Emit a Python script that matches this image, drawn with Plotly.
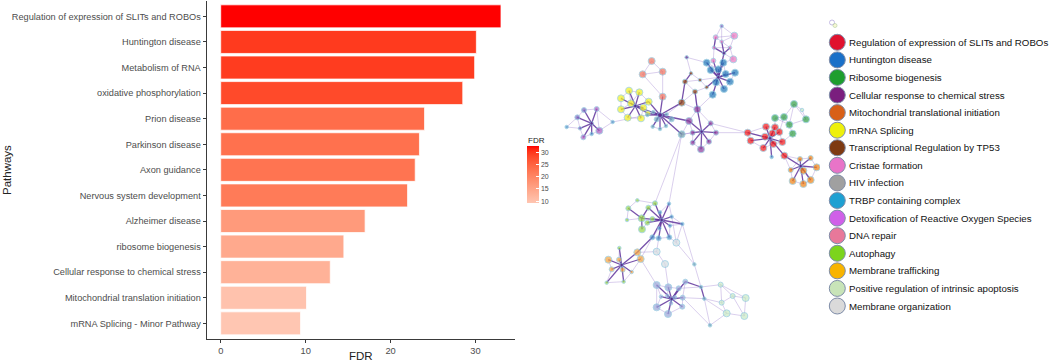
import plotly.graph_objects as go
import numpy as np

# ---------------- bar chart data ----------------
pathways = [
    "Regulation of expression of SLITs and ROBOs",
    "Huntington disease",
    "Metabolism of RNA",
    "oxidative phosphorylation",
    "Prion disease",
    "Parkinson disease",
    "Axon guidance",
    "Nervous system development",
    "Alzheimer disease",
    "ribosome biogenesis",
    "Cellular response to chemical stress",
    "Mitochondrial translation initiation",
    "mRNA Splicing - Minor Pathway",
]
fdr = [33.0, 30.1, 29.9, 28.5, 24.0, 23.4, 22.9, 22.0, 17.0, 14.5, 12.9, 10.1, 9.4]
fdr_ticks = [0, 10, 20, 30]
colorbar_ticks = [10, 15, 20, 25, 30]

# ---------------- legend data ----------------
legend_labels = [
    "Regulation of expression of SLITs and ROBOs",
    "Huntington disease",
    "Ribosome biogenesis",
    "Cellular response to chemical stress",
    "Mitochondrial translational initiation",
    "mRNA Splicing",
    "Transcriptional Regulation by TP53",
    "Cristae formation",
    "HIV infection",
    "TRBP containing complex",
    "Detoxification of Reactive Oxygen Species",
    "DNA repair",
    "Autophagy",
    "Membrane trafficking",
    "Positive regulation of intrinsic apoptosis",
    "Membrane organization",
]
legend_colors = [
    "#E0112E", "#1A70C8", "#1E9E2E", "#7A1E7E", "#D86018", "#EEF00C",
    "#7E3A12", "#E874C8", "#A0A0A0", "#1EA0D2", "#D060E8", "#E8789A",
    "#7CD41C", "#F8B400", "#C8E4B8", "#DADADA",
]

# ---------------- network data (layout coordinates) ----------------
# (id, x, y, category, rank)
cluster_A = [("A0", 95, 370, "hub", 1), ("A1", 110, 327, "orchid", 2), ("A2", 72, 330, "violet", 2),
             ("A3", 52, 352, "violet", 2), ("A4", 60, 385, "violet", 1), ("A5", 118, 392, "orchid", 3),
             ("A6", 70, 412, "orchid", 2), ("A7", 20, 381, "cyan", 1), ("A8", 95, 402, "cyan", 1),
             ("A9", 158, 366, "cyan", 1)]
cluster_B = [("B0", 207, 272, "yellow", 3), ("B1", 238, 277, "yellow", 3), ("B2", 183, 295, "yellow", 3),
             ("B3", 213, 310, "yellow", 3), ("B4", 266, 305, "yellow", 3), ("B5", 183, 328, "yellow", 3),
             ("B6", 250, 323, "yellow", 3), ("B7", 203, 353, "yellow", 3), ("B8", 243, 355, "yellow", 3),
             ("B9", 264, 340, "yellow", 2), ("B10", 226, 318, "hub", 1)]
cluster_C = [("C0", 275, 183, "coral", 3), ("C1", 308, 215, "coral", 3), ("C2", 248, 223, "coral", 3),
             ("C3", 308, 290, "coral", 3)]
cluster_D = [("D0", 300, 345, "hub", 2), ("D1", 278, 380, "teal", 1), ("D2", 300, 387, "teal", 1),
             ("D3", 318, 378, "teal", 1), ("D4", 335, 358, "teal", 2), ("D5", 290, 358, "teal", 2),
             ("D6", 320, 343, "teal", 1), ("D7", 280, 336, "teal", 1), ("D8", 262, 345, "teal", 1)]
cluster_E = [("E0", 365, 308, "brown", 3), ("E1", 375, 245, "brown", 2), ("E2", 405, 275, "brown", 2),
             ("E3", 393, 220, "brown", 1), ("E4", 380, 172, "hub", 1), ("E5", 440, 262, "brown", 1),
             ("E6", 420, 240, "brown", 1)]
cluster_F = [("F0", 475, 232, "hub", 1), ("F1", 440, 188, "blue", 3), ("F2", 490, 188, "blue", 3),
             ("F3", 452, 210, "blue", 3), ("F4", 475, 208, "blue", 3), ("F5", 497, 222, "blue", 3),
             ("F6", 525, 218, "blue", 3), ("F7", 468, 247, "blue", 3), ("F8", 510, 245, "blue", 3),
             ("F9", 492, 267, "blue", 3), ("F10", 458, 284, "blue", 3)]
cluster_G = [("G0", 485, 78, "violet", 1), ("G1", 467, 112, "pink", 2), ("G2", 523, 107, "pink", 3),
             ("G3", 485, 125, "pink", 1), ("G4", 462, 143, "pink", 1), ("G5", 510, 143, "pink", 1),
             ("G6", 520, 178, "pink", 3), ("G7", 460, 182, "pink", 2), ("G8", 492, 160, "hub", 1)]
cluster_H = [("H0", 412, 328, "purple", 3), ("H1", 387, 363, "purple", 3), ("H2", 452, 370, "purple", 2),
             ("H3", 425, 395, "hub", 1), ("H4", 398, 398, "purple", 2), ("H5", 468, 398, "purple", 2),
             ("H6", 398, 428, "purple", 2), ("H7", 447, 425, "purple", 2), ("H8", 423, 448, "purple", 3),
             ("X0", 365, 403, "gray", 3)]
cluster_I = [("I0", 563, 398, "red", 3), ("I1", 572, 422, "red", 3), ("I2", 618, 380, "red", 3),
             ("I3", 645, 382, "red", 3), ("I4", 615, 410, "red", 3), ("I5", 637, 400, "red", 3),
             ("I6", 658, 396, "red", 3), ("I7", 640, 432, "red", 3), ("I8", 667, 426, "red", 3),
             ("I9", 610, 444, "red", 3), ("I10", 673, 467, "red", 3), ("I11", 635, 471, "cyan", 1),
             ("I12", 630, 415, "hub", 1)]
cluster_J = [("J0", 702, 312, "green", 3), ("J1", 726, 330, "pale", 1), ("J2", 645, 354, "green", 3),
             ("J3", 672, 351, "green", 3), ("J4", 738, 358, "green", 3), ("J5", 688, 374, "green", 3),
             ("J6", 698, 401, "green", 3)]
cluster_K = [("K0", 720, 477, "orange", 2), ("K1", 752, 474, "orange", 2), ("K2", 692, 510, "orange", 2),
             ("K3", 730, 512, "orange", 3), ("K4", 770, 502, "orange", 3), ("K5", 698, 543, "orange", 3),
             ("K6", 730, 552, "orange", 3), ("K7", 752, 540, "orange", 3), ("K8", 722, 498, "hub", 1)]
cluster_L = [("L0", 305, 660, "hub", 1), ("L1", 205, 625, "lime", 2), ("L2", 232, 601, "lime", 1),
             ("L3", 265, 623, "lime", 2), ("L4", 285, 610, "lime", 2), ("L5", 245, 655, "lime", 3),
             ("L6", 262, 668, "lime", 2), ("L7", 277, 657, "lime", 2), ("L8", 246, 688, "lime", 3),
             ("L9", 201, 660, "lime", 1), ("L10", 327, 611, "cyan", 1), ("L11", 300, 637, "cyan", 1),
             ("L12", 335, 650, "cyan", 1), ("L13", 367, 672, "cyan", 1), ("L14", 330, 677, "cyan", 1),
             ("L15", 298, 685, "cyan", 1), ("L16", 277, 712, "cyan", 2), ("L17", 296, 715, "cyan", 2),
             ("L18", 328, 712, "cyan", 2), ("L19", 349, 728, "lgray", 3)]
cluster_M = [("M0", 232, 757, "amber", 3), ("M1", 242, 777, "amber", 3), ("M2", 178, 744, "lime", 1),
             ("M3", 145, 779, "amber", 3), ("M4", 177, 779, "amber", 2), ("M5", 155, 808, "amber", 2),
             ("M6", 188, 809, "amber", 2), ("M7", 215, 816, "amber", 1), ("M8", 140, 848, "lime", 1),
             ("M9", 191, 845, "lime", 1), ("M10", 185, 795, "hub", 1), ("M11", 290, 755, "lgray", 3),
             ("M12", 315, 792, "lgray", 3)]
cluster_N = [("N0", 290, 855, "lav", 3), ("N1", 325, 862, "lav", 3), ("N2", 356, 865, "lav", 2),
             ("N3", 376, 845, "lav", 2), ("N4", 303, 890, "lav", 1), ("N5", 322, 888, "lav", 1),
             ("N6", 345, 892, "lav", 1), ("N7", 368, 893, "lav", 2), ("N8", 290, 922, "lav", 3),
             ("N9", 324, 942, "lav", 3), ("N10", 333, 910, "lav", 1), ("N11", 367, 920, "lav", 2),
             ("N12", 335, 897, "hub", 1)]
cluster_O = [("O0", 403, 793, "teal", 1), ("O1", 423, 861, "teal", 1), ("O2", 433, 896, "teal", 1),
             ("O3", 482, 854, "pale", 2), ("O4", 518, 888, "pale", 2), ("O5", 485, 908, "pale", 2),
             ("O6", 557, 894, "pale", 3), ("O7", 500, 940, "pale", 3), ("O8", 553, 948, "pale", 3),
             ("O9", 450, 976, "teal", 1)]

strong_edges = [
    ("A0", "A1"), ("A0", "A2"), ("A0", "A3"), ("A0", "A4"), ("A0", "A5"), ("A0", "A6"), ("A0", "A8"),
    ("B10", "B0"), ("B10", "B1"), ("B10", "B2"), ("B10", "B3"), ("B10", "B4"), ("B10", "B5"),
    ("B10", "B6"), ("B10", "B7"), ("B10", "B8"), ("B10", "B9"), ("B10", "D0"), ("B9", "D0"), ("B4", "D0"),
    ("D0", "D1"), ("D0", "D2"), ("D0", "D3"), ("D0", "D4"), ("D0", "D5"), ("D0", "D6"), ("D0", "D7"),
    ("D0", "D8"), ("D0", "C3"), ("D0", "E0"), ("D0", "X0"), ("D0", "H1"),
    ("E0", "E1"), ("E1", "E3"),
    ("F0", "F1"), ("F0", "F2"), ("F0", "F3"), ("F0", "F4"), ("F0", "F5"), ("F0", "F6"), ("F0", "F7"),
    ("F0", "F8"), ("F0", "F9"), ("F0", "F10"), ("F0", "G7"), ("F0", "G8"), ("F0", "E5"),
    ("G8", "G4"), ("G8", "G5"), ("G8", "G3"), ("G4", "G1"),
    ("H3", "H0"), ("H3", "H1"), ("H3", "H2"), ("H3", "H4"), ("H3", "H5"), ("H3", "H6"), ("H3", "H7"),
    ("H3", "H8"), ("H0", "E2"),
    ("I12", "I0"), ("I12", "I1"), ("I12", "I2"), ("I12", "I3"), ("I12", "I4"), ("I12", "I5"),
    ("I12", "I6"), ("I12", "I7"), ("I12", "I8"), ("I12", "I9"), ("I12", "I10"), ("I12", "I11"),
    ("I10", "K8"),
    ("K8", "K0"), ("K8", "K1"), ("K8", "K2"), ("K8", "K3"), ("K8", "K4"), ("K8", "K5"), ("K8", "K6"),
    ("K8", "K7"),
    ("L0", "L3"), ("L0", "L4"), ("L0", "L6"), ("L0", "L7"), ("L0", "L10"), ("L0", "L11"), ("L0", "L12"),
    ("L0", "L13"), ("L0", "L14"), ("L0", "L15"), ("L0", "L16"), ("L0", "L17"), ("L0", "L18"), ("L0", "L5"),
    ("L1", "L5"), ("L5", "L8"), ("L3", "L5"),
    ("M10", "M0"), ("M10", "M1"), ("M10", "M2"), ("M10", "M3"), ("M10", "M4"), ("M10", "M5"),
    ("M10", "M6"), ("M10", "M7"), ("M10", "M8"), ("M10", "M9"), ("M0", "L16"),
    ("N12", "N0"), ("N12", "N1"), ("N12", "N2"), ("N12", "N3"), ("N12", "N4"), ("N12", "N5"),
    ("N12", "N6"), ("N12", "N7"), ("N12", "N8"), ("N12", "N9"), ("N12", "N10"), ("N12", "N11"),
    ("O1", "N3"), ("O2", "O1"),
]
weak_edges = [
    ("A1", "A2"), ("A2", "A3"), ("A3", "A7"), ("A7", "A4"), ("A4", "A6"), ("A6", "A8"), ("A8", "A5"),
    ("A5", "A1"), ("A1", "A9"), ("A9", "A5"), ("A9", "D8"), ("A3", "A4"),
    ("B0", "B1"), ("B0", "B2"), ("B1", "B4"), ("B2", "B5"), ("B5", "B7"), ("B7", "B8"), ("B8", "B6"),
    ("B6", "B4"), ("B3", "B0"), ("B3", "B5"), ("B1", "B3"),
    ("C0", "C1"), ("C0", "C2"), ("C1", "C2"), ("C2", "C3"), ("C1", "C3"),
    ("D1", "D2"), ("D2", "D3"), ("D3", "D4"), ("D4", "D6"), ("D7", "D8"), ("D5", "D1"), ("D6", "E0"),
    ("E1", "E2"), ("E2", "E5"), ("E3", "E6"), ("E6", "E5"), ("E0", "E2"), ("E3", "E4"), ("E4", "F1"),
    ("E6", "F0"), ("E1", "E6"), ("E2", "H0"), ("E0", "H0"),
    ("F1", "F3"), ("F2", "F5"), ("F5", "F6"), ("F6", "F8"), ("F8", "F9"), ("F7", "F10"), ("F1", "F4"),
    ("F4", "F2"), ("F10", "H0"), ("F9", "F7"),
    ("G0", "G1"), ("G0", "G2"), ("G1", "G3"), ("G3", "G2"), ("G1", "G4"), ("G5", "G2"), ("G5", "G6"),
    ("G6", "F2"), ("G3", "G5"), ("G1", "G2"), ("G4", "G5"), ("G4", "G7"), ("G6", "G8"), ("G0", "G3"),
    ("H0", "H1"), ("H1", "H4"), ("H4", "H6"), ("H6", "H8"), ("H8", "H7"), ("H7", "H5"), ("H5", "H2"),
    ("H2", "H0"), ("H5", "I0"), ("H2", "I0"), ("X0", "H3"), ("X0", "H1"), ("X0", "H4"),
    ("I0", "I1"), ("I2", "I3"), ("I3", "I6"), ("I6", "I8"), ("I8", "I7"), ("I7", "I9"), ("I9", "I1"),
    ("I0", "I2"), ("I0", "I4"), ("I4", "I5"), ("I5", "I6"),
    ("J0", "J3"), ("J0", "J4"), ("J0", "J5"), ("J3", "J2"), ("J3", "J5"), ("J4", "J5"), ("J5", "J6"),
    ("J2", "I3"), ("J3", "I6"), ("J6", "I8"), ("J1", "J0"), ("J1", "J4"), ("J2", "J5"),
    ("K0", "K1"), ("K1", "K4"), ("K4", "K7"), ("K7", "K6"), ("K6", "K5"), ("K5", "K2"), ("K2", "K0"),
    ("K0", "I10"), ("I10", "K2"),
    ("X0", "L10"), ("X0", "L4"),
    ("L1", "L2"), ("L2", "L4"), ("L1", "L9"), ("L9", "L5"), ("L3", "L4"), ("L6", "L7"), ("L8", "L6"),
    ("L10", "L12"), ("L12", "L13"), ("L13", "L14"), ("L14", "L18"), ("L16", "L17"), ("L17", "L18"),
    ("L15", "L16"), ("L11", "L10"), ("L18", "L19"), ("L19", "L13"), ("L13", "O0"), ("L12", "L19"),
    ("M0", "M11"), ("M11", "L17"), ("M11", "M12"), ("M12", "N1"), ("M1", "N0"), ("M3", "M5"),
    ("M5", "M8"), ("M8", "M9"), ("M9", "M7"), ("M7", "M1"), ("M2", "M4"), ("M0", "M1"), ("M1", "L16"),
    ("N0", "N1"), ("N1", "N2"), ("N2", "N3"), ("N0", "N8"), ("N8", "N9"), ("N9", "N11"), ("N11", "N7"),
    ("N3", "N7"), ("N4", "N8"), ("N0", "N4"), ("N1", "N5"), ("N2", "N6"),
    ("O0", "O1"), ("O1", "O3"), ("O3", "O4"), ("O3", "O5"), ("O4", "O6"), ("O4", "O5"), ("O5", "O7"),
    ("O7", "O8"), ("O6", "O8"), ("O2", "O5"), ("O2", "O7"), ("O9", "O7"), ("O9", "O2"), ("O2", "N7"),
    ("O4", "O8"), ("O3", "O6"), ("O1", "N2"), ("N7", "O9"), ("L19", "O0"),
]

# ---------------- styles ----------------
node_colors = {
    "hub": "#5B2C8C", "red": "#F21818", "blue": "#1F77B8", "green": "#2E9E44", "purple": "#8B3C9C",
    "orange": "#F08010", "yellow": "#F2F21E", "brown": "#8C4010", "pink": "#E878C0", "gray": "#6E9AA6",
    "cyan": "#4C92C8", "orchid": "#A85EC0", "coral": "#F0705C", "lime": "#96D848", "amber": "#F4A540",
    "pale": "#C8EBC4", "lgray": "#D4DCE0", "lav": "#9AA6D8", "teal": "#6AA6B8", "violet": "#7A66BE",
}
rank_size = {1: 3.5, 2: 5.0, 3: 7.0}
FONT = "Liberation Sans, Arial, sans-serif"
W, H = 1050, 361


# ---- Lab interpolation (ggplot-like gradient) ----
def hex_to_lab(h):
    rgb = np.array([int(h[i:i + 2], 16) for i in (1, 3, 5)]) / 255.0
    rgb = np.where(rgb > 0.04045, ((rgb + 0.055) / 1.055) ** 2.4, rgb / 12.92)
    M = np.array([[0.4124, 0.3576, 0.1805], [0.2126, 0.7152, 0.0722], [0.0193, 0.1192, 0.9505]])
    xyz = M @ rgb / np.array([0.95047, 1.0, 1.08883])
    f = np.where(xyz > 0.008856, np.cbrt(xyz), 7.787 * xyz + 16 / 116)
    return np.array([116 * f[1] - 16, 500 * (f[0] - f[1]), 200 * (f[1] - f[2])])


def lab_to_hex(lab):
    L, a, b = lab
    fy = (L + 16) / 116
    fx = fy + a / 500
    fz = fy - b / 200
    f = np.array([fx, fy, fz])
    xyz = np.where(f ** 3 > 0.008856, f ** 3, (f - 16 / 116) / 7.787) * np.array([0.95047, 1.0, 1.08883])
    Minv = np.array([[3.2406, -1.5372, -0.4986], [-0.9689, 1.8758, 0.0415], [0.0557, -0.2040, 1.0570]])
    rgb = Minv @ xyz
    rgb = np.where(rgb > 0.0031308, 1.055 * np.clip(rgb, 0, None) ** (1 / 2.4) - 0.055, 12.92 * rgb)
    rgb = np.clip(np.round(rgb * 255), 0, 255).astype(int)
    return "#%02X%02X%02X" % tuple(rgb)


low_lab, high_lab = hex_to_lab("#FFC6B2"), hex_to_lab("#FF0000")
colorscale = [[float(t), lab_to_hex(low_lab + (high_lab - low_lab) * t)] for t in np.linspace(0, 1, 21)]

fig = go.Figure()

# ---------------- bar chart ----------------
fig.add_trace(go.Bar(
    x=fdr, y=pathways, orientation="h", width=0.9,
    marker=dict(
        color=fdr, colorscale=colorscale, cmin=min(fdr), cmax=max(fdr),
        line=dict(color="rgba(255,255,255,0.75)", width=1),
        colorbar=dict(
            x=527 / W, xanchor="left", y=(H - 174) / H, yanchor="middle",
            len=57, lenmode="pixels", thickness=12, thicknessmode="pixels",
            xpad=0, ypad=0, outlinewidth=0,
            tickvals=colorbar_ticks, ticks="inside", ticklen=3, tickcolor="white", tickwidth=1,
            tickfont=dict(size=7, color="#4D4D4D", family=FONT),
        ),
    ),
    hoverinfo="x+y", showlegend=False, xaxis="x", yaxis="y",
))

# ---------------- network ----------------
clusters = [cluster_A, cluster_B, cluster_C, cluster_D, cluster_E, cluster_F, cluster_G, cluster_H,
            cluster_I, cluster_J, cluster_K, cluster_L, cluster_M, cluster_N, cluster_O]
nodes = {}
for cl in clusters:
    for nid, x, y, cat, rank in cl:
        nodes[nid] = (x, y, cat, rank)


def edge_xy(edges):
    ex, ey = [], []
    for a, b in edges:
        ex += [nodes[a][0], nodes[b][0], None]
        ey += [nodes[a][1], nodes[b][1], None]
    return ex, ey


wx, wy = edge_xy(weak_edges)
fig.add_trace(go.Scatter(x=wx, y=wy, mode="lines", line=dict(color="rgba(150,120,205,0.4)", width=0.9),
                         hoverinfo="skip", showlegend=False, xaxis="x2", yaxis="y2"))
sx, sy = edge_xy(strong_edges)
fig.add_trace(go.Scatter(x=sx, y=sy, mode="lines", line=dict(color="rgba(95,50,155,0.85)", width=1.3),
                         hoverinfo="skip", showlegend=False, xaxis="x2", yaxis="y2"))

ids = list(nodes.keys())
fig.add_trace(go.Scatter(
    x=[nodes[i][0] for i in ids], y=[nodes[i][1] for i in ids], mode="markers",
    marker=dict(color=[node_colors[nodes[i][2]] for i in ids],
                size=[rank_size[nodes[i][3]] for i in ids],
                line=dict(color="#86C4DC", width=0.9)),
    text=ids, hoverinfo="text", showlegend=False, xaxis="x2", yaxis="y2"))

# ---------------- legend (drawn) ----------------
row0, pitch = 42.3, 17.58
ly = [row0 + i * pitch for i in range(len(legend_labels))]
fig.add_trace(go.Scatter(
    x=[837.3] * len(legend_labels), y=ly, mode="markers",
    marker=dict(color=legend_colors, size=16, line=dict(color="#7E8CA8", width=1)),
    hoverinfo="skip", showlegend=False, xaxis="x3", yaxis="y3"))
fig.add_trace(go.Scatter(
    x=[832, 835], y=[22.5, 25.5], mode="markers",
    marker=dict(color=["#FFFFFF", "#F4F4C0"], size=[5, 4], line=dict(color=["#9A8AD0", "#A8C890"], width=0.8)),
    hoverinfo="skip", showlegend=False, xaxis="x3", yaxis="y3"))

annotations = []
for lab, yy in zip(legend_labels, ly):
    annotations.append(dict(x=847.5, y=yy, xref="x3", yref="y3", text=lab, showarrow=False,
                            xanchor="left", yanchor="middle", borderpad=0,
                            font=dict(size=9.7, color="#111111", family=FONT)))

# axis titles and colorbar title
annotations += [
    dict(x=361 / W, y=(H - 356) / H, xref="paper", yref="paper", text="FDR", showarrow=False,
         xanchor="center", yanchor="middle", font=dict(size=11.5, color="#222222", family=FONT)),
    dict(x=7 / W, y=(H - 170) / H, xref="paper", yref="paper", text="Pathways", showarrow=False,
         textangle=-90, xanchor="center", yanchor="middle", font=dict(size=11.5, color="#222222", family=FONT)),
    dict(x=526 / W, y=(H - 140) / H, xref="paper", yref="paper", text="FDR", showarrow=False,
         xanchor="left", yanchor="middle", font=dict(size=8, color="#222222", family=FONT)),
]

n = len(pathways)
fig.update_layout(
    width=W, height=H, margin=dict(l=0, r=0, t=0, b=0),
    paper_bgcolor="white", plot_bgcolor="rgba(0,0,0,0)",
    font=dict(family=FONT),
    bargap=0.1,
    xaxis=dict(domain=[206.7 / W, 515 / W], range=[-1.65, 34.65], tickvals=fdr_ticks,
               showline=True, linecolor="#3A3A3A", linewidth=1.2, ticks="outside", ticklen=3,
               tickcolor="#3A3A3A", tickwidth=1, showgrid=False, zeroline=False,
               tickfont=dict(size=9.3, color="#4D4D4D", family=FONT), anchor="y"),
    yaxis=dict(domain=[(H - 338.7) / H, (H - 1) / H], type="category", categoryorder="array",
               categoryarray=pathways, range=[n - 1 + 0.6, -0.6],
               showline=True, linecolor="#3A3A3A", linewidth=1.2, ticks="outside", ticklen=3,
               tickcolor="#3A3A3A", tickwidth=1, showgrid=False, zeroline=False,
               tickfont=dict(size=9.2, color="#4D4D4D", family=FONT), anchor="x"),
    xaxis2=dict(domain=[560 / W, 820 / W], range=[0, 780], visible=False, anchor="y2"),
    yaxis2=dict(domain=[0, 1], range=[1083, 0], visible=False, anchor="x2"),
    xaxis3=dict(domain=[822 / W, 1], range=[822, 1050], visible=False, anchor="y3"),
    yaxis3=dict(domain=[0, 1], range=[361, 0], visible=False, anchor="x3"),
    annotations=annotations,
)

fig.write_html("out.html", config={"displayModeBar": False},
               post_script="document.body.style.margin='0';document.body.style.overflow='hidden';")
